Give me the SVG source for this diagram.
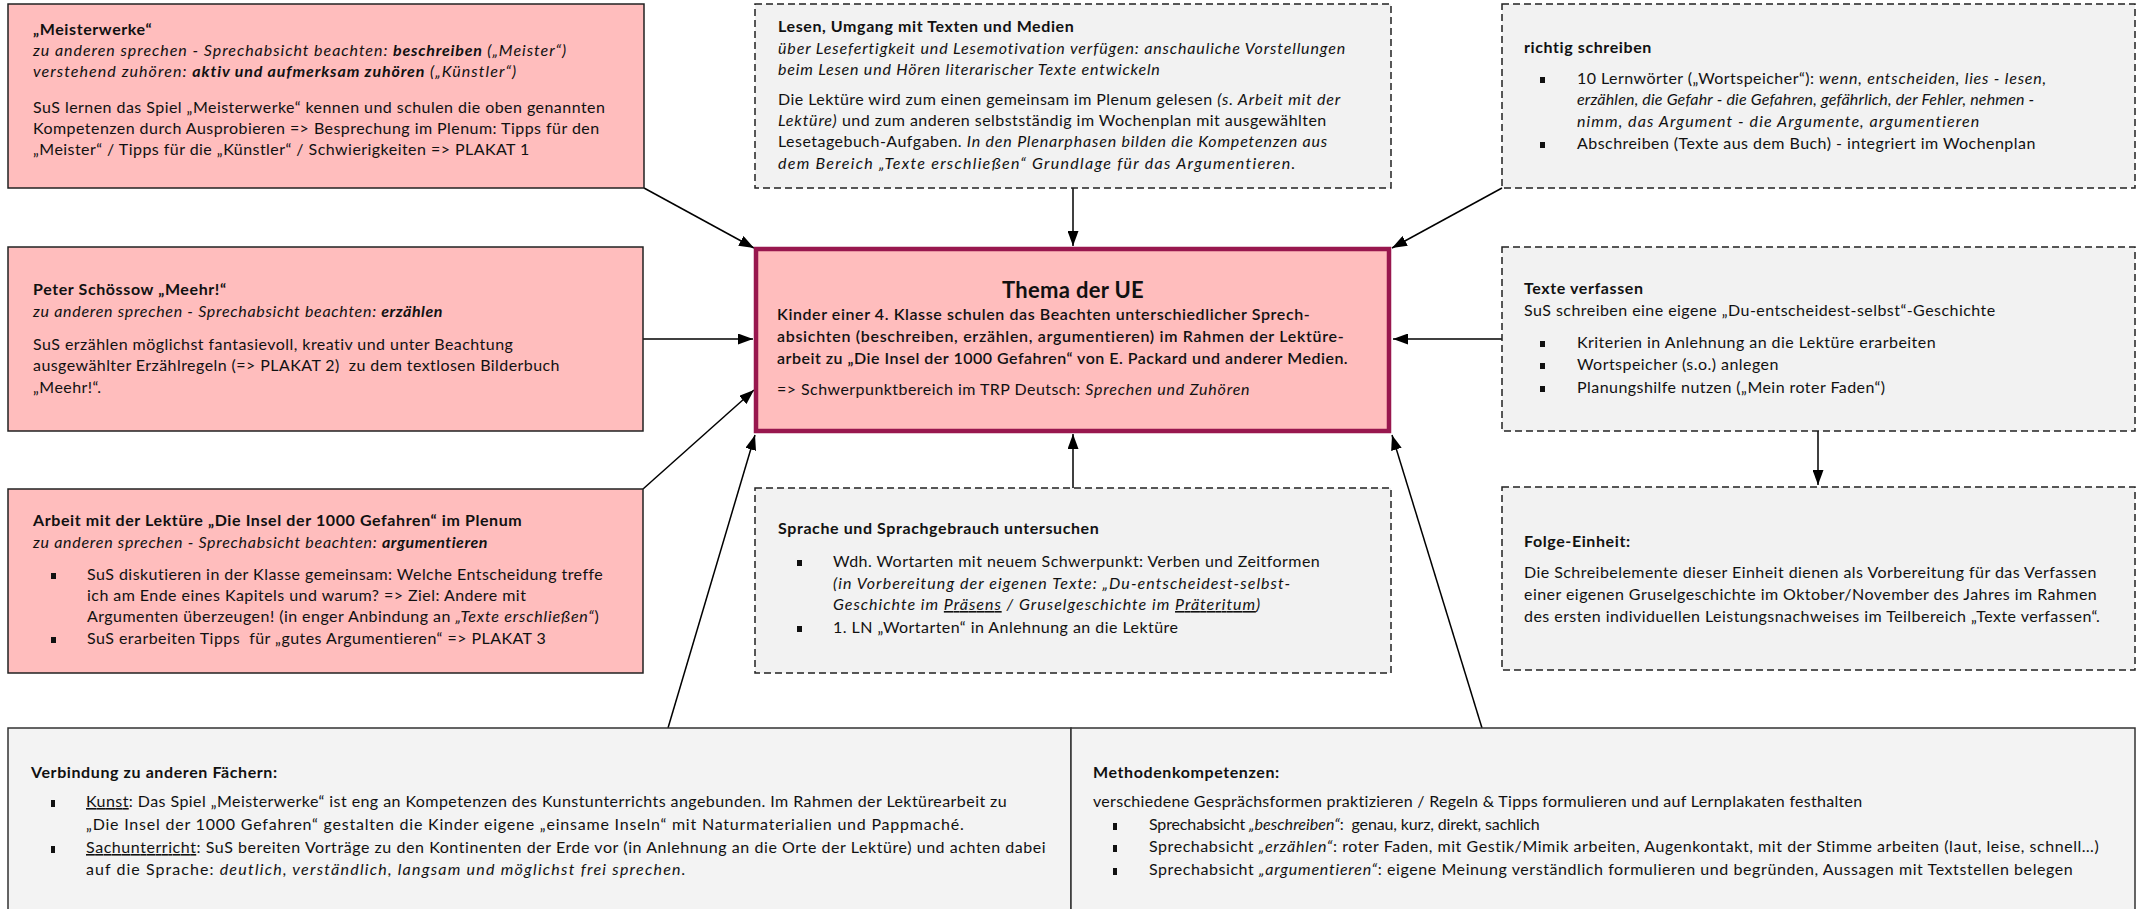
<svg xmlns="http://www.w3.org/2000/svg" width="2145" height="909" viewBox="0 0 2145 909">
<defs>
<marker id="ah" markerUnits="userSpaceOnUse" markerWidth="15" markerHeight="11" refX="15" refY="5.5" orient="auto">
<path d="M0,0 L15,5.5 L0,11 z" fill="#000"/>
</marker>
<style>
text{font-family:Lato,"Liberation Sans",sans-serif;font-size:16px;letter-spacing:0.45px;fill:#111}
.b{font-weight:bold;letter-spacing:0.6px}
.i{font-style:italic;letter-spacing:0.8px}
.u{text-decoration:underline}
.pink{fill:#ffbdbd;stroke:#222;stroke-width:1.5}
.dash{fill:#f2f2f2;stroke:#222;stroke-width:1.5;stroke-dasharray:7 4}
.gray{fill:#f3f3f3;stroke:#333;stroke-width:1.5}
.core{fill:#ffbdbd;stroke:#98174e;stroke-width:4.5}
.c{stroke:#000;stroke-width:1.5;fill:none;marker-end:url(#ah)}
.bl{fill:#111}
.tt{font-size:22px;font-weight:bold;letter-spacing:0.3px}
.m{font-weight:600;letter-spacing:0.35px}
.sm{letter-spacing:0.3px}
.sm .i{letter-spacing:0.5px}
</style>
</defs>

<g id="connectors">
<line class="c" x1="644" y1="188" x2="754" y2="248"/>
<line class="c" x1="1073" y1="188" x2="1073" y2="246"/>
<line class="c" x1="1502" y1="188" x2="1392" y2="248"/>
<line class="c" x1="643" y1="339" x2="753" y2="339"/>
<line class="c" x1="1502" y1="339" x2="1393" y2="339"/>
<line class="c" x1="643" y1="489" x2="754" y2="390"/>
<line class="c" x1="1073" y1="488" x2="1073" y2="434"/>
<line class="c" x1="668" y1="728" x2="755" y2="435"/>
<line class="c" x1="1482" y1="728" x2="1392" y2="435"/>
<line class="c" x1="1818" y1="431" x2="1818" y2="485"/>
</g>

<g id="meisterwerke">
<rect class="pink" x="8" y="4" width="636" height="184"/>
<text x="33" y="35" class="b">„Meisterwerke“</text>
<text x="33" y="56" class="i" textLength="534" lengthAdjust="spacing">zu anderen sprechen - Sprechabsicht beachten: <tspan class="b">beschreiben</tspan> („Meister“)</text>
<text x="33" y="77" class="i" textLength="484" lengthAdjust="spacing">verstehend zuhören: <tspan class="b">aktiv und aufmerksam zuhören</tspan> („Künstler“)</text>
<text x="33" y="113">SuS lernen das Spiel „Meisterwerke“ kennen und schulen die oben genannten</text>
<text x="33" y="134">Kompetenzen durch Ausprobieren =&gt; Besprechung im Plenum: Tipps für den</text>
<text x="33" y="155">„Meister“ / Tipps für die „Künstler“ / Schwierigkeiten =&gt; PLAKAT 1</text>
</g>

<g id="meehr">
<rect class="pink" x="8" y="247" width="635" height="184"/>
<text x="33" y="295" class="b">Peter Schössow „Meehr!“</text>
<text x="33" y="317" class="i" textLength="410" lengthAdjust="spacing">zu anderen sprechen - Sprechabsicht beachten: <tspan class="b">erzählen</tspan></text>
<text x="33" y="350">SuS erzählen möglichst fantasievoll, kreativ und unter Beachtung</text>
<text x="33" y="371" textLength="527" lengthAdjust="spacing">ausgewählter Erzählregeln (=&gt; PLAKAT 2)&#160; zu dem textlosen Bilderbuch</text>
<text x="33" y="393">„Meehr!“.</text>
</g>

<g id="arbeit">
<rect class="pink" x="8" y="489" width="635" height="184"/>
<text x="33" y="526" class="b">Arbeit mit der Lektüre „Die Insel der 1000 Gefahren“ im Plenum</text>
<text x="33" y="548" class="i" textLength="455" lengthAdjust="spacing">zu anderen sprechen - Sprechabsicht beachten: <tspan class="b">argumentieren</tspan></text>
<rect class="bl" x="51" y="573" width="5" height="6"/>
<text x="87" y="580">SuS diskutieren in der Klasse gemeinsam: Welche Entscheidung treffe</text>
<text x="87" y="601">ich am Ende eines Kapitels und warum? =&gt; Ziel: Andere mit</text>
<text x="87" y="622">Argumenten überzeugen! (in enger Anbindung an <tspan class="i">„Texte erschließen“</tspan>)</text>
<rect class="bl" x="51" y="637" width="5" height="6"/>
<text x="87" y="644">SuS erarbeiten Tipps&#160; für „gutes Argumentieren“ =&gt; PLAKAT 3</text>
</g>

<g id="lesen">
<rect class="dash" x="755" y="4" width="636" height="184"/>
<text x="778" y="32" class="b">Lesen, Umgang mit Texten und Medien</text>
<text x="778" y="54" class="i" textLength="568" lengthAdjust="spacing">über Lesefertigkeit und Lesemotivation verfügen: anschauliche Vorstellungen</text>
<text x="778" y="75" class="i">beim Lesen und Hören literarischer Texte entwickeln</text>
<text x="778" y="105">Die Lektüre wird zum einen gemeinsam im Plenum gelesen <tspan class="i">(s. Arbeit mit der</tspan></text>
<text x="778" y="126"><tspan class="i">Lektüre)</tspan> und zum anderen selbstständig im Wochenplan mit ausgewählten</text>
<text x="778" y="147" textLength="550" lengthAdjust="spacing">Lesetagebuch-Aufgaben. <tspan class="i">In den Plenarphasen bilden die Kompetenzen aus</tspan></text>
<text x="778" y="169" class="i" textLength="518" lengthAdjust="spacing">dem Bereich „Texte erschließen“ Grundlage für das Argumentieren.</text>
</g>

<g id="thema">
<rect class="core" x="756" y="249" width="633" height="182"/>
<text x="1073" y="298" class="tt" text-anchor="middle">Thema der UE</text>
<text x="777" y="320" class="m" textLength="533" lengthAdjust="spacing">Kinder einer 4. Klasse schulen das Beachten unterschiedlicher Sprech-</text>
<text x="777" y="342" class="m" textLength="567" lengthAdjust="spacing">absichten (beschreiben, erzählen, argumentieren) im Rahmen der Lektüre-</text>
<text x="777" y="364" class="m" textLength="571" lengthAdjust="spacing">arbeit zu „Die Insel der 1000 Gefahren“ von E. Packard und anderer Medien.</text>
<text x="777" y="395">=&gt; Schwerpunktbereich im TRP Deutsch: <tspan class="i">Sprechen und Zuhören</tspan></text>
</g>

<g id="sprache">
<rect class="dash" x="755" y="488" width="636" height="185"/>
<text x="778" y="534" class="b">Sprache und Sprachgebrauch untersuchen</text>
<rect class="bl" x="797" y="560" width="5" height="6"/>
<text x="833" y="567">Wdh. Wortarten mit neuem Schwerpunkt: Verben und Zeitformen</text>
<text x="833" y="589" class="i" textLength="458" lengthAdjust="spacing">(in Vorbereitung der eigenen Texte: „Du-entscheidest-selbst-</text>
<text x="833" y="610" class="i" textLength="428" lengthAdjust="spacing">Geschichte im <tspan class="u">Präsens</tspan> / Gruselgeschichte im <tspan class="u">Präteritum</tspan>)</text>
<rect class="bl" x="797" y="626" width="5" height="6"/>
<text x="833" y="633">1. LN „Wortarten“ in Anlehnung an die Lektüre</text>
</g>

<g id="richtig-schreiben">
<rect class="dash" x="1502" y="4" width="633" height="184"/>
<text x="1524" y="53" class="b">richtig schreiben</text>
<rect class="bl" x="1540" y="77" width="5" height="6"/>
<text x="1577" y="84" textLength="470" lengthAdjust="spacing">10 Lernwörter („Wortspeicher“): <tspan class="i">wenn, entscheiden, lies - lesen,</tspan></text>
<text x="1577" y="105" class="i" textLength="458" lengthAdjust="spacing">erzählen, die Gefahr - die Gefahren, gefährlich, der Fehler, nehmen -</text>
<text x="1577" y="127" class="i" textLength="403" lengthAdjust="spacing">nimm, das Argument - die Argumente, argumentieren</text>
<rect class="bl" x="1540" y="142" width="5" height="6"/>
<text x="1577" y="149">Abschreiben (Texte aus dem Buch) - integriert im Wochenplan</text>
</g>

<g id="texte-verfassen">
<rect class="dash" x="1502" y="247" width="633" height="184"/>
<text x="1524" y="294" class="b">Texte verfassen</text>
<text x="1524" y="316">SuS schreiben eine eigene „Du-entscheidest-selbst“-Geschichte</text>
<rect class="bl" x="1540" y="341" width="5" height="6"/>
<text x="1577" y="348">Kriterien in Anlehnung an die Lektüre erarbeiten</text>
<rect class="bl" x="1540" y="363" width="5" height="6"/>
<text x="1577" y="370">Wortspeicher (s.o.) anlegen</text>
<rect class="bl" x="1540" y="386" width="5" height="6"/>
<text x="1577" y="393">Planungshilfe nutzen („Mein roter Faden“)</text>
</g>

<g id="folge-einheit">
<rect class="dash" x="1502" y="487" width="633" height="183"/>
<text x="1524" y="547" class="b">Folge-Einheit:</text>
<text x="1524" y="578">Die Schreibelemente dieser Einheit dienen als Vorbereitung für das Verfassen</text>
<text x="1524" y="600">einer eigenen Gruselgeschichte im Oktober/November des Jahres im Rahmen</text>
<text x="1524" y="622">des ersten individuellen Leistungsnachweises im Teilbereich „Texte verfassen“.</text>
</g>

<g id="verbindung">
<rect class="gray" x="8" y="728" width="1063" height="190"/>
<text x="31" y="778" class="b">Verbindung zu anderen Fächern:</text>
<rect class="bl" x="51" y="800" width="4" height="7"/>
<text x="86" y="807" class="sm" textLength="921" lengthAdjust="spacing"><tspan class="u">Kunst</tspan>: Das Spiel „Meisterwerke“ ist eng an Kompetenzen des Kunstunterrichts angebunden. Im Rahmen der Lektürearbeit zu</text>
<text x="86" y="830" class="sm" textLength="878" lengthAdjust="spacing">„Die Insel der 1000 Gefahren“ gestalten die Kinder eigene „einsame Inseln“ mit Naturmaterialien und Pappmaché.</text>
<rect class="bl" x="51" y="846" width="4" height="7"/>
<text x="86" y="853" class="sm" textLength="960" lengthAdjust="spacing"><tspan class="u">Sachunterricht</tspan>: SuS bereiten Vorträge zu den Kontinenten der Erde vor (in Anlehnung an die Orte der Lektüre) und achten dabei</text>
<text x="86" y="875" class="sm" textLength="600" lengthAdjust="spacing">auf die Sprache: <tspan class="i">deutlich, verständlich, langsam und möglichst frei sprechen.</tspan></text>
</g>

<g id="methodenkompetenzen">
<rect class="gray" x="1071" y="728" width="1064" height="190"/>
<text x="1093" y="778" class="b">Methodenkompetenzen:</text>
<text x="1093" y="807" class="sm">verschiedene Gesprächsformen praktizieren / Regeln &amp; Tipps formulieren und auf Lernplakaten festhalten</text>
<rect class="bl" x="1113" y="823" width="4" height="7"/>
<text x="1149" y="830" class="sm" textLength="391" lengthAdjust="spacing">Sprechabsicht <tspan class="i">„beschreiben“</tspan>:&#160; genau, kurz, direkt, sachlich</text>
<rect class="bl" x="1113" y="845" width="4" height="7"/>
<text x="1149" y="852" class="sm" textLength="950" lengthAdjust="spacing">Sprechabsicht <tspan class="i">„erzählen“</tspan>: roter Faden, mit Gestik/Mimik arbeiten, Augenkontakt, mit der Stimme arbeiten (laut, leise, schnell…)</text>
<rect class="bl" x="1113" y="868" width="4" height="7"/>
<text x="1149" y="875" class="sm" textLength="924" lengthAdjust="spacing">Sprechabsicht <tspan class="i">„argumentieren“</tspan>: eigene Meinung verständlich formulieren und begründen, Aussagen mit Textstellen belegen</text>
</g>
</svg>
